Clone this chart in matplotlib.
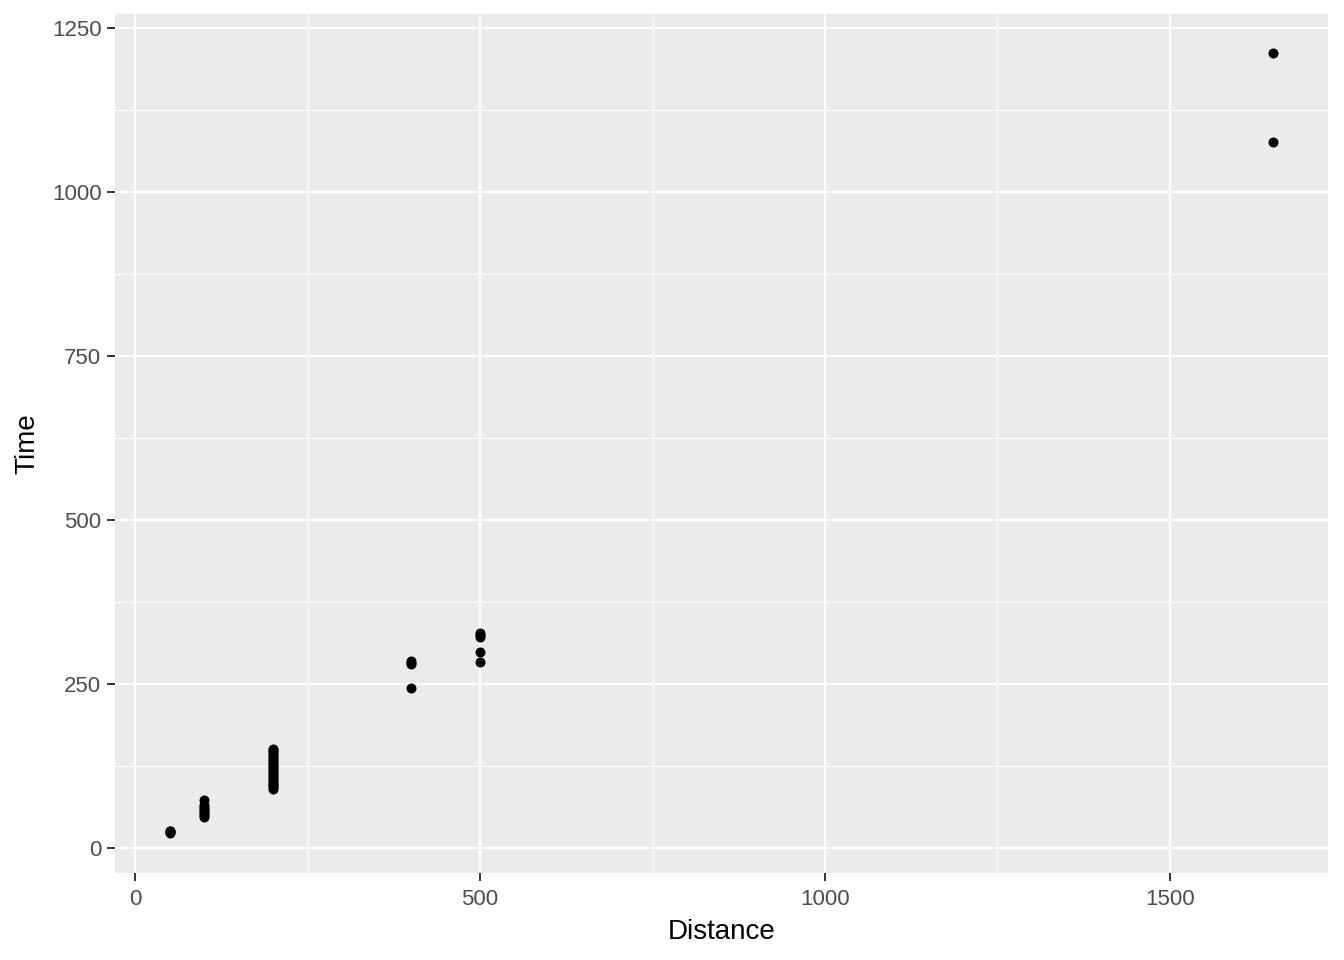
import matplotlib
matplotlib.use("Agg")
import matplotlib.pyplot as plt
import numpy as np

# Data
dist_50 = [22, 24, 25, 26]
dist_100 = [47, 50, 53, 56, 59, 62, 65, 73]
dist_200 = [89, 92, 95, 98, 101, 104, 107, 110, 113, 116, 119, 122, 125, 128,
            131, 134, 137, 140, 143, 146, 149, 151]
dist_400 = [243, 280, 282, 284]
dist_500 = [283, 298, 321, 324, 327]
dist_1650 = [1076, 1212]

groups = {50: dist_50, 100: dist_100, 200: dist_200, 400: dist_400,
          500: dist_500, 1650: dist_1650}
distance = []
time = []
for d, ts in groups.items():
    distance += [d] * len(ts)
    time += ts

x_ticks = [0, 500, 1000, 1500]
y_ticks = [0, 250, 500, 750, 1000, 1250]

plt.rcParams['font.family'] = ['Liberation Sans', 'DejaVu Sans']
fig = plt.figure(figsize=(13.44, 9.6), dpi=100)
ax = fig.add_axes([115/1344, 1 - 873/960, (1328-115)/1344, (873-14)/960])
ax.set_facecolor('#EBEBEB')
for s in ax.spines.values():
    s.set_visible(False)

ax.set_xlim(-29, 1729)
ax.set_ylim(-38.4, 1270.9)
ax.set_xticks(x_ticks)
ax.set_yticks(y_ticks)
ax.set_xticks([250, 750, 1250], minor=True)
ax.set_yticks([125, 375, 625, 875, 1125], minor=True)
ax.grid(True, which='major', color='white', linewidth=1.4)
ax.grid(True, which='minor', color='white', linewidth=0.7)
ax.set_axisbelow(True)
ax.tick_params(which='major', length=5.8, width=1.4, color='#333333',
               labelsize=16, labelcolor='#4D4D4D', pad=4)
ax.tick_params(axis='x', which='major', pad=5.5)
ax.tick_params(which='minor', length=0)

ax.scatter(distance, time, s=52, color='black', zorder=3, linewidths=0)

ax.set_xlabel('Distance', fontsize=20, color='black', labelpad=7)
ax.set_ylabel('Time', fontsize=20, color='black', labelpad=8)

fig.savefig('out.png', dpi=100)
